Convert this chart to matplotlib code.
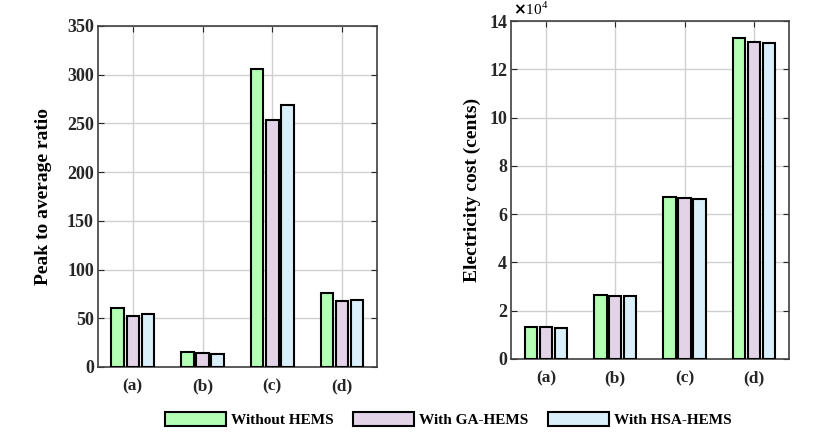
import matplotlib.pyplot as plt
import numpy as np
from matplotlib.patches import Patch

plt.rcParams['font.family'] = ['Liberation Serif', 'DejaVu Serif']
plt.rcParams['font.weight'] = 'bold'

categories = ['(a)', '(b)', '(c)', '(d)']
series = ['Without HEMS', 'With GA-HEMS', 'With HSA-HEMS']
par_values = [
    [61, 15, 306, 76],
    [52, 14, 253, 67.4],
    [54, 13, 269, 68.4],
]
cost_values = [  # x 10^4 cents
    [1.34, 2.65, 6.72, 13.28],
    [1.34, 2.61, 6.68, 13.13],
    [1.30, 2.61, 6.61, 13.09],
]
colors = ['#b3ffb3', '#e2d3e6', '#d9effa']

fig = plt.figure(figsize=(8.3, 4.47), dpi=100)
ax1 = fig.add_axes([0.118, 0.179, 0.336, 0.763])
ax2 = fig.add_axes([0.616, 0.197, 0.334, 0.756])

x = np.arange(1, len(categories) + 1)
step = 0.216
width = 0.18


def draw(ax, values, ylim, yticks, ylabel, pad):
    for i, vals in enumerate(values):
        ax.bar(x + (i - 1) * step, vals, width, color=colors[i],
               edgecolor='black', linewidth=1.5, zorder=3)
    ax.set_xlim(0.5, 4.5)
    ax.set_ylim(*ylim)
    ax.set_xticks(x)
    ax.set_xticklabels(categories, fontsize=12.5, fontweight='bold')
    ax.set_yticks(yticks)
    ax.set_yticklabels([str(t) for t in yticks], fontsize=13, fontweight='bold')
    ax.set_ylabel(ylabel, fontsize=14, fontweight='bold', labelpad=pad)
    ax.grid(True, color='#d0d0d0', linewidth=1, zorder=0)
    ax.tick_params(direction='in', top=True, right=True, length=4,
                   color='#262626', colors='#262626')
    ax.tick_params(axis='x', pad=8)
    ax.tick_params(axis='y', pad=3)
    for s in ax.spines.values():
        s.set_color('#404040')
        s.set_linewidth(1.2)


draw(ax1, par_values, (0, 350), list(range(0, 351, 50)),
     'Peak to average ratio', 11)
draw(ax2, cost_values, (0, 14), list(range(0, 15, 2)),
     'Electricity cost (cents)', 6)
ax2.text(0.005, 1.008, r'$\times$10$^{\mathregular{4}}$', transform=ax2.transAxes,
         fontsize=11, fontweight='normal', ha='left', va='bottom')

handles = [Patch(facecolor=c, edgecolor='black', linewidth=1.5) for c in colors]
fig.legend(handles, series, loc='center', bbox_to_anchor=(0.54, 0.062),
           ncol=3, frameon=False, handlelength=4.0,
           handleheight=1.1, handletextpad=0.3, columnspacing=1.3,
           prop={'weight': 'bold', 'size': 11})

plt.savefig('out.png', dpi=100)
